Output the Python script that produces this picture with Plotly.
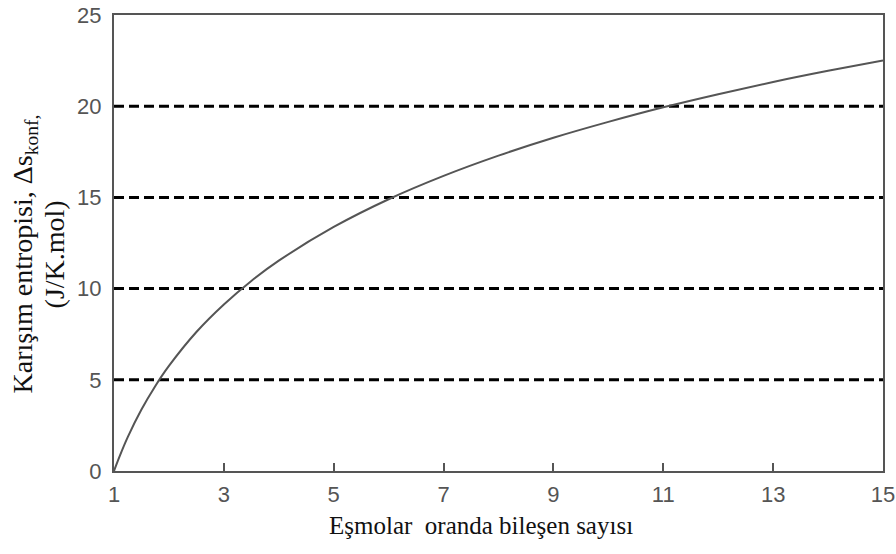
import plotly.graph_objects as go

# Data
n_components = [1, 1.1, 1.25, 1.5, 1.75, 2, 2.5, 3, 3.5, 4, 5, 6, 7, 8, 9, 10, 11, 12, 13, 14, 15]
entropy = [0.0, 0.79, 1.86, 3.37, 4.65, 5.76, 7.62, 9.13, 10.42, 11.53, 13.38, 14.90, 16.18, 17.29,
           18.27, 19.14, 19.94, 20.66, 21.33, 21.94, 22.51]
ref_levels = [5, 10, 15, 20]
x_ticks = [1, 3, 5, 7, 9, 11, 13, 15]
y_ticks = [0, 5, 10, 15, 20, 25]

fig = go.Figure()

for lv in ref_levels:
    fig.add_trace(go.Scatter(
        x=[x_ticks[0], x_ticks[-1]], y=[lv, lv], mode="lines",
        line=dict(color="black", width=3, dash="10px,5px"),
        hoverinfo="skip", showlegend=False, cliponaxis=False))

fig.add_trace(go.Scatter(
    x=n_components, y=entropy, mode="lines",
    line=dict(color="#555555", width=2, shape="spline", smoothing=1.0),
    showlegend=False))

tick_font = dict(family="Liberation Sans", size=22, color="#555555")
xtitle_font = dict(family="Liberation Serif", size=25, color="#111111")
ytitle_font = dict(family="Liberation Serif", size=28, color="#111111")

fig.update_layout(
    width=896, height=554,
    margin=dict(l=114, r=13, t=15, b=83, autoexpand=False),
    paper_bgcolor="white", plot_bgcolor="white",
    xaxis=dict(range=[1, 15], tickvals=x_ticks, ticktext=[str(v) for v in x_ticks],
               showgrid=False, zeroline=False, showline=True, linecolor="#555555", linewidth=2,
               mirror=True, ticks="inside", ticklen=8, tickwidth=2, tickcolor="#555555",
               tickfont=tick_font, ticklabelstandoff=3, automargin=False),
    yaxis=dict(range=[0, 25], tickvals=y_ticks, ticktext=[str(v) for v in y_ticks],
               showgrid=False, zeroline=False, showline=True, linecolor="#555555", linewidth=2,
               mirror=True, ticks="", tickfont=tick_font, ticklabelstandoff=6, automargin=False),
    annotations=[
        dict(text="Eşmolar&nbsp; oranda bileşen sayısı", xref="paper", yref="paper",
             x=0.477, y=-0.119, xanchor="center", yanchor="middle", showarrow=False,
             font=xtitle_font),
        dict(text="Karışım entropisi, Δs<sub>konf,</sub>", xref="paper", yref="paper",
             x=-0.117, y=0.475, xanchor="center", yanchor="middle", showarrow=False,
             textangle=-90, font=ytitle_font),
        dict(text="(J/K.mol)", xref="paper", yref="paper",
             x=-0.078, y=0.475, xanchor="center", yanchor="middle", showarrow=False,
             textangle=-90, font=ytitle_font),
    ],
)

fig.write_html("out.html")
